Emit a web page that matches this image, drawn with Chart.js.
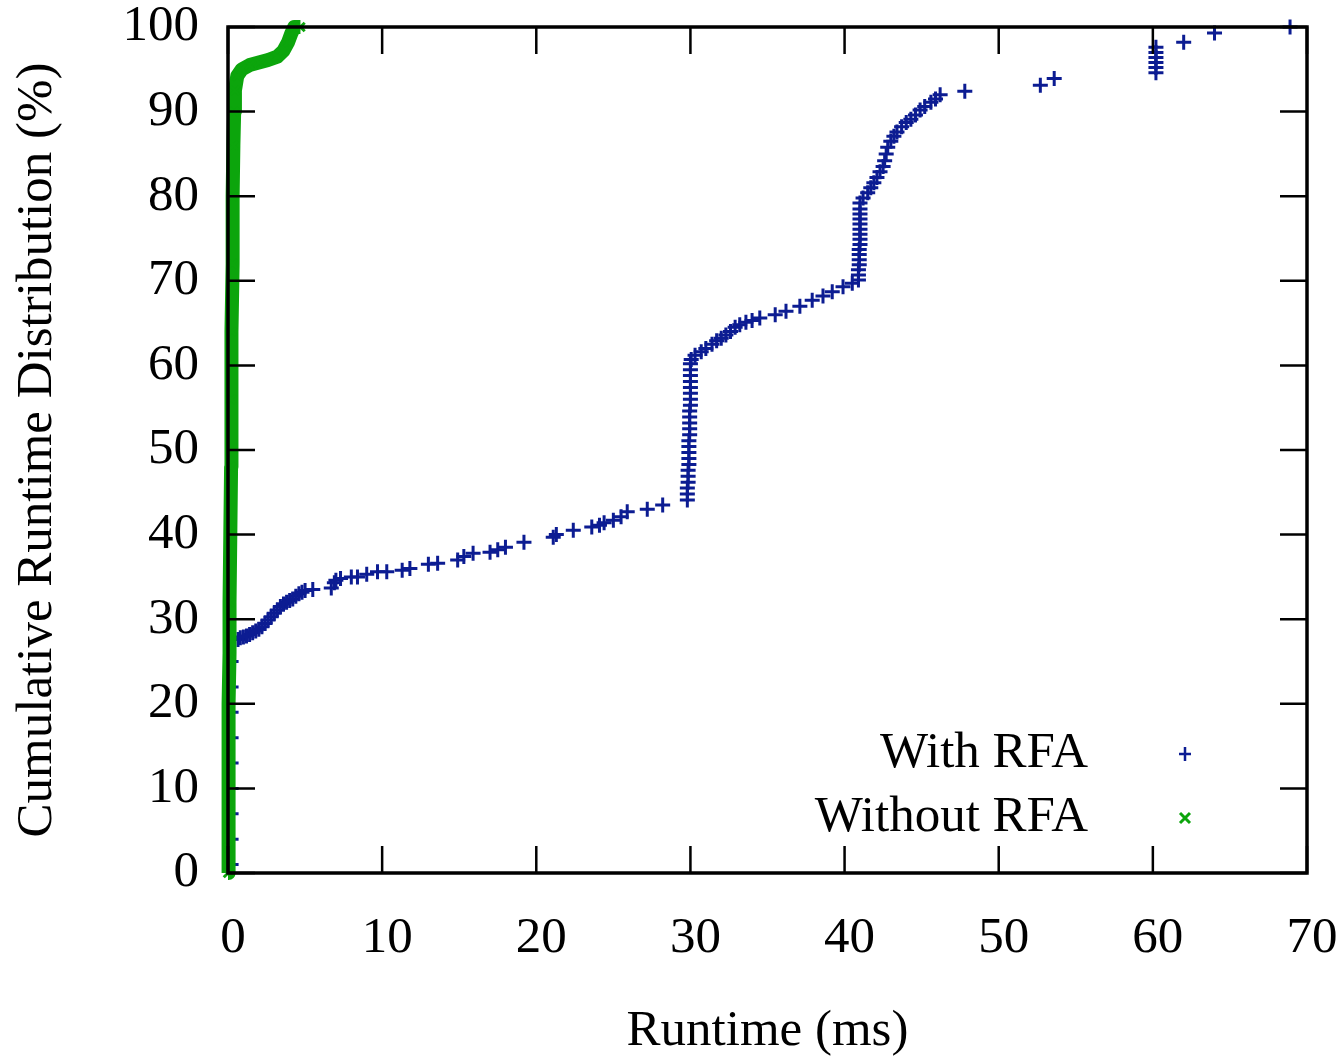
<!DOCTYPE html>
<html>
<head>
<meta charset="utf-8">
<script src="https://cdn.jsdelivr.net/npm/chart.js@4.4.1/dist/chart.umd.min.js"></script>
<style>
  html, body { margin: 0; padding: 0; background: #fff; }
  #wrap { width: 1344px; height: 1057px; position: relative; }
</style>
</head>
<body>
<div id="wrap"><canvas id="chart"></canvas></div>
<script>
// tick labels
const xTicks = [0, 10, 20, 30, 40, 50, 60, 70];
const yTicks = [0, 10, 20, 30, 40, 50, 60, 70, 80, 90, 100];

// With RFA (runtime ms, cumulative %)
const withX = [
  0.2, 0.2, 0.2, 0.2, 0.2, 0.2, 0.2, 0.2, 0.2,
  0.65, 0.8, 1.0, 1.2, 1.4, 1.6, 1.8, 2.0, 2.2, 2.4, 2.6, 2.8, 3.0, 3.2, 3.4, 3.6, 3.8, 4.0, 4.2, 4.4, 4.6, 4.8, 5.0,
  5.5, 6.7, 6.9, 7.0, 7.3, 8.0, 8.4, 9.0, 9.7, 10.3, 11.3, 11.8, 13.0, 13.6, 14.9, 15.3, 15.9, 17.0, 17.5, 18.0,
  19.2, 21.1, 21.3, 22.4, 23.6, 24.1, 24.4, 25.0, 25.5, 25.9, 27.2, 28.2,
  29.8, 29.8, 29.8, 29.85, 29.85, 29.85, 29.9, 29.9, 29.9, 29.9, 29.9, 29.95, 29.95, 29.95, 29.95, 29.95,
  30.0, 30.0, 30.0, 30.0, 30.0, 30.0, 30.0, 30.0, 30.05,
  30.3, 30.7, 31.0, 31.4, 31.7, 32.0, 32.3, 32.6, 32.9, 33.2, 33.6, 34.0, 34.5, 35.5, 36.2, 37.1, 37.9, 38.6,
  39.2, 39.9, 40.5,
  40.9, 40.9, 40.9, 40.95, 40.95, 40.95, 40.95, 41.0, 41.0, 41.0, 41.0, 41.0, 41.0, 41.0, 41.0, 41.0,
  41.2, 41.5, 41.7, 41.9, 42.1, 42.3, 42.5, 42.6, 42.7, 42.8, 43.0, 43.2, 43.4, 43.7, 44.0, 44.3, 44.6, 44.9,
  45.2, 45.6, 45.9, 46.2, 47.8, 52.7, 53.6,
  60.2, 60.2, 60.2, 60.2, 60.2, 60.2, 62.0, 64.0, 68.9
];
const withY = [
  1, 4, 7, 10, 13, 16, 19, 22, 25,
  27.6, 27.8, 27.9, 28.0, 28.2, 28.4, 28.6, 28.8, 29.1, 29.5, 29.9, 30.3, 30.7, 31.1, 31.5, 31.8, 32.0, 32.2, 32.4, 32.7, 33.0, 33.2, 33.4,
  33.5, 33.7, 34.3, 34.6, 34.8, 35.0, 35.0, 35.3, 35.6, 35.6, 35.8, 36.0, 36.5, 36.6, 37.0, 37.4, 37.8, 37.9, 38.2, 38.5,
  39.1, 39.7, 40.0, 40.5, 40.9, 41.1, 41.4, 41.7, 42.1, 42.7, 43.0, 43.5,
  44.1, 44.8, 45.5, 46.2, 46.9, 47.6, 48.3, 49.0, 49.7, 50.4, 51.1, 51.8, 52.5, 53.2, 53.9, 54.6,
  55.3, 56.0, 56.7, 57.4, 58.1, 58.8, 59.5, 60.2, 60.7,
  61.2, 61.6, 62.0, 62.5, 62.9, 63.2, 63.6, 64.0, 64.5, 64.8, 65.1, 65.3, 65.6, 66.0, 66.4, 67.0, 67.7, 68.2,
  68.7, 69.3, 69.7,
  70.1, 70.7, 71.3, 71.9, 72.5, 73.1, 73.7, 74.3, 74.9, 75.5, 76.1, 76.7, 77.3, 77.9, 78.5, 79.2,
  79.8, 80.4, 81.0, 81.6, 82.2, 82.9, 83.5, 84.2, 85.0, 85.8, 86.5, 87.1, 87.6, 88.2, 88.7, 89.1, 89.6, 90.2,
  90.6, 91.1, 91.5, 92.0, 92.4, 93.1, 93.9,
  94.6, 95.2, 95.8, 96.4, 97.0, 97.6, 98.2, 99.3, 100
];

// Without RFA
const withoutX = [0.0, 0.0, 0.05, 0.05, 0.05, 0.1, 0.1, 0.15, 0.2, 0.2, 0.25, 0.3, 0.3, 0.35, 0.4, 0.45,
  0.6, 0.9, 1.4, 2.0, 2.6, 3.2, 3.6, 3.9, 4.1, 4.3, 4.7];
const withoutY = [0, 3, 8, 14, 20, 26, 32, 40, 48, 56, 64, 72, 80, 86, 90, 92.5,
  94.2, 95.0, 95.5, 95.8, 96.1, 96.5, 97.2, 98.2, 99.2, 100, 100];

const BLUE = '#0c1c92';
const GREEN = '#0ca50c';
const FONT = { family: '"Liberation Serif", "Times New Roman", serif', size: 51, lineHeight: 1 };

const toPoints = (xs, ys) => xs.map((x, i) => ({ x: x, y: ys[i] }));

// gnuplot-style frame, inward ticks and key
const framePlugin = {
    id: 'frame',
    afterDatasetsDraw(chart) {
        const { ctx, chartArea: a, scales } = chart;
        ctx.save();
        ctx.strokeStyle = '#000';
        ctx.lineWidth = 2.5;
        const tl = 27;
        ctx.beginPath();
        xTicks.forEach(v => {
            const px = scales.x.getPixelForValue(v);
            ctx.moveTo(px, a.bottom); ctx.lineTo(px, a.bottom - tl);
            ctx.moveTo(px, a.top); ctx.lineTo(px, a.top + tl);
        });
        yTicks.forEach(v => {
            const py = scales.y.getPixelForValue(v);
            ctx.moveTo(a.left, py); ctx.lineTo(a.left + tl, py);
            ctx.moveTo(a.right, py); ctx.lineTo(a.right - tl, py);
        });
        ctx.stroke();
        ctx.lineWidth = 3.5;
        ctx.strokeRect(a.left, a.top, a.right - a.left, a.bottom - a.top);

        // key
        ctx.font = '51px "Liberation Serif", "Times New Roman", serif';
        ctx.fillStyle = '#000';
        ctx.textAlign = 'right';
        ctx.textBaseline = 'middle';
        const tx = a.right - 219, mx = a.right - 122;
        const y1 = a.bottom - 119, y2 = a.bottom - 55;
        ctx.fillText('With RFA', tx, y1);
        ctx.fillText('Without RFA', tx, y2);
        ctx.lineWidth = 2.5;
        ctx.strokeStyle = BLUE;
        ctx.beginPath();
        ctx.moveTo(mx - 6, y1); ctx.lineTo(mx + 6, y1);
        ctx.moveTo(mx, y1 - 7); ctx.lineTo(mx, y1 + 7);
        ctx.stroke();
        ctx.strokeStyle = GREEN;
        ctx.lineWidth = 3;
        ctx.beginPath();
        ctx.moveTo(mx - 5, y2 - 5); ctx.lineTo(mx + 5, y2 + 5);
        ctx.moveTo(mx - 5, y2 + 5); ctx.lineTo(mx + 5, y2 - 5);
        ctx.stroke();
        ctx.restore();
    }
};

new Chart(document.getElementById('chart'), {
    type: 'scatter',
    data: {
        datasets: [
            {
                label: 'Without RFA',
                data: toPoints(withoutX, withoutY),
                showLine: true,
                borderColor: GREEN,
                borderWidth: 14,
                borderJoinStyle: 'round',
                pointStyle: 'crossRot',
                pointRadius: 6,
                pointBorderWidth: 3,
                pointBorderColor: GREEN,
                backgroundColor: GREEN,
                clip: false,
                order: 0
            },
            {
                label: 'With RFA',
                data: toPoints(withX, withY),
                showLine: false,
                pointStyle: 'cross',
                pointRadius: 7.5,
                pointBorderWidth: 3,
                pointBorderColor: BLUE,
                backgroundColor: BLUE,
                clip: false,
                order: 1
            }
        ]
    },
    options: {
        responsive: true,
        maintainAspectRatio: false,
        animation: false,
        layout: { padding: { top: 27, right: 37, left: 0, bottom: 0 } },
        plugins: {
            legend: { display: false },
            tooltip: { enabled: false }
        },
        scales: {
            x: {
                type: 'linear',
                min: 0,
                max: 70,
                grid: { display: false, drawTicks: false },
                border: { display: false },
                ticks: { stepSize: 10, font: FONT, color: '#000', padding: 40, labelOffset: 5 },
                title: { display: true, text: 'Runtime (ms)', font: FONT, color: '#000', padding: { top: 0, bottom: 0 } },
                afterFit: s => { s.height = 184; s.paddingLeft = 0; s.paddingRight = 0; }
            },
            y: {
                min: 0,
                max: 100,
                grid: { display: false, drawTicks: false },
                border: { display: false },
                ticks: { stepSize: 10, font: FONT, color: '#000', padding: 29 },
                title: { display: true, text: 'Cumulative Runtime Distribution (%)', font: FONT, color: '#000', padding: { top: 12, bottom: 0 } },
                afterFit: s => { s.width = 228; s.paddingTop = 0; s.paddingBottom = 0; }
            }
        }
    },
    plugins: [framePlugin]
});
</script>
</body>
</html>
